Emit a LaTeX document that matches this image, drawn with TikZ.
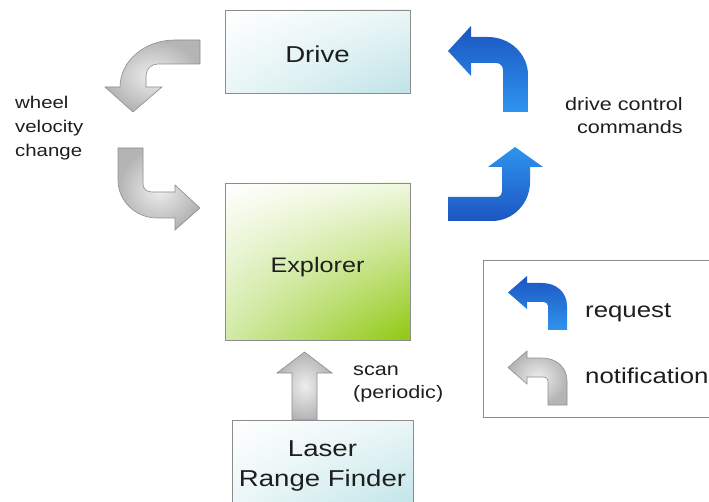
\documentclass[tikz,border=0pt]{standalone}
\usepackage{fontspec}
\setmainfont{Liberation Sans}[FakeStretch=1.2]
\usetikzlibrary{shadings}
\definecolor{boxline}{HTML}{8C8C8C}
\definecolor{txt}{HTML}{1E1E1E}
\definecolor{blueL}{HTML}{2E94EE}
\definecolor{blueD}{HTML}{1C55C2}
\definecolor{grayL}{HTML}{EEEEEE}
\definecolor{grayD}{HTML}{B4B4B4}
\definecolor{grayEdge}{HTML}{8E8E8E}
\definecolor{cyanL}{HTML}{EAF6F7}
\definecolor{cyanD}{HTML}{BFE3E7}
\definecolor{greenL}{HTML}{F0F8E0}
\definecolor{greenM}{HTML}{D2EAA8}
\definecolor{greenD}{HTML}{8FC810}
\begin{document}
\begin{tikzpicture}[x=1pt,y=-1pt,
  box/.style={draw=boxline, line width=0.9pt, inner sep=0pt, text=txt},
  cyanbox/.style={box, upper left=white, upper right=cyanL, lower left=cyanL, lower right=cyanD},
  greenbox/.style={box, upper left=white, upper right=greenL, lower left=greenM, lower right=greenD},
  lbl/.style={inner sep=0pt, text=txt},
  reqshade/.style={top color=blueD, bottom color=blueL},
  reqshadeup/.style={top color=blueL, bottom color=blueD},
  notshade/.style={draw=grayEdge, line width=0.6pt, inner color=grayL, outer color=grayD},
  legarrow/.pic={\path[pic actions] (0,0) -- (0,-24) .. controls (0,-38) and (-11,-47) .. (-25,-47) -- (-40,-47) -- (-40,-54) -- (-59,-37.5) -- (-40,-21) -- (-40,-28) -- (-23,-28) .. controls (-21,-28) and (-19,-26) .. (-19,-24) -- (-19,0) -- cycle;}
]
\useasboundingbox (0,0) rectangle (709,502);
\fill[white] (0,0) rectangle (709,502);

% boxes
\node[cyanbox, minimum width=185pt, minimum height=83pt, text height=23pt, text depth=0pt,
      font=\fontsize{23}{27}\selectfont] (drive) at (317.5,51.5) {Drive};
\node[greenbox, minimum width=185pt, minimum height=157pt, text height=23pt, text depth=0pt,
      font=\fontsize{21}{25}\selectfont] (explorer) at (317.5,261.5) {Explorer};
\node[cyanbox, minimum width=181pt, minimum height=92pt, align=center,
      font=\fontsize{23}{30}\selectfont] (laser) at (322.5,466) {Laser\\Range Finder};

% legend box
\node[draw=boxline, line width=0.9pt, minimum width=232pt, minimum height=157pt, anchor=north west, inner sep=0pt] (legend) at (483,260) {};

% gray arrow: Drive -> wheel velocity change
\path[notshade] (200,40) -- (175,40) .. controls (144.6,40) and (120,61) .. (120,87) -- (105,87) -- (133,112) -- (162,87) -- (146,87) -- (146,76) .. controls (146,69) and (151,64) .. (158,64) -- (200,64) -- cycle;
% gray arrow: -> Explorer
\path[notshade] (118,148) -- (118,180) .. controls (118,201) and (135.5,218) .. (157,218) -- (175,218) -- (175,230) -- (200,208) -- (175,185) -- (175,192) -- (152,192) .. controls (147,192) and (143,189) .. (143,184) -- (143,148) -- cycle;
% gray arrow: scan
\path[notshade] (292,420) -- (292,373) -- (277,373) -- (304.5,352) -- (332,373) -- (317,373) -- (317,420) -- cycle;

% blue arrow: -> Drive
\path[reqshade] (528,112) -- (528,75) .. controls (528,54) and (510,37) .. (488,37) -- (471,37) -- (471,26) -- (448,51) -- (471,76) -- (471,63) -- (496,63) .. controls (500,63) and (503,66) .. (503,70) -- (503,112) -- cycle;
% blue arrow: Explorer ->
\path[reqshadeup] (448,221) -- (492,221) .. controls (513,221) and (530,203.5) .. (530,182) -- (530,167) -- (543,167) -- (515,147) -- (488,167) -- (502,167) -- (502,190) .. controls (502,195) and (500,197) .. (496,197) -- (448,197) -- cycle;

% legend arrows
\pic[reqshade] at (567,330) {legarrow};
\pic[notshade] at (567,405) {legarrow};

% labels
\node[lbl, anchor=north west, align=left, font=\fontsize{17}{24}\selectfont] (wheel) at (15,96) {wheel\\velocity\\change};
\node[lbl, anchor=north east, align=right, font=\fontsize{18}{23}\selectfont] (dcc) at (683,97) {drive control\\commands};
\node[lbl, anchor=north west, align=left, font=\fontsize{18}{23}\selectfont] (scan) at (353,366) {scan\\(periodic)};
\node[lbl, anchor=base west, font=\fontsize{21.5}{26}\selectfont] (req) at (585,318) {request};
\node[lbl, anchor=base west, font=\fontsize{21.5}{26}\selectfont] (notif) at (585,383) {notification};
\end{tikzpicture}
\end{document}
